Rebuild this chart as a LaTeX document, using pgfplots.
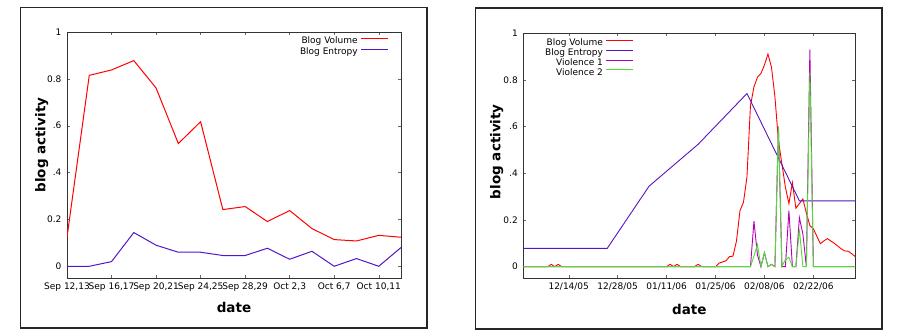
\documentclass[border=0pt]{standalone}
\usepackage{pgfplots}
\pgfplotsset{compat=1.18}
\usepackage{fontspec}
\setmainfont{DejaVu Sans}
\definecolor{gvol}{RGB}{255,0,0}
\definecolor{gent}{RGB}{85,20,200}
\definecolor{gvone}{RGB}{180,0,180}
\definecolor{gvtwo}{RGB}{80,220,50}
\begin{document}
\begin{tikzpicture}[x=1pt,y=1pt]
\path (0,0) rectangle (902,335);
\draw[line width=1.3pt, black!85] (20.5,327.5) rectangle (427,7);
\draw[line width=1.3pt, black!85] (475.5,327) rectangle (882,6);
\pgfplotsset{every axis/.append style={
  scale only axis,
  font=\fontsize{9}{10}\selectfont,
  tick align=inside, major tick length=3pt,
  axis line style={black!80},
  every tick/.style={black!60},
  xlabel style={font=\fontsize{13.5}{15}\selectfont\bfseries, anchor=center},
  ylabel style={font=\fontsize{13.5}{15}\selectfont\bfseries, anchor=center},
  yticklabel style={xshift=-2pt},
  xticklabel style={yshift=-1pt},
  legend cell align=right,
  legend plot pos=right,
  ytick={0,0.2,0.4,0.6,0.8,1},
  yticklabels={0,0.2,.4,.6,0.8,1},
  ymin=-0.05, ymax=1,
}}
\begin{axis}[at={(67pt,57pt)}, anchor=south west, width=334pt, height=246pt,
  xmin=0, xmax=15,
  xtick={0,2,4,6,8,10,12,14},
  xticklabels={{Sep 12,13},{Sep 16,17},{Sep 20,21},{Sep 24,25},{Sep 28,29},{Oct 2,3},{Oct 6,7},{Oct 10,11}},
  xlabel={date}, ylabel={blog activity},
  xlabel style={at={(axis description cs:0.5,-0.118)}},
  ylabel style={at={(axis description cs:-0.0757,0.54)}},
  legend image code/.code={\draw[#1] (0pt,3pt) -- (27pt,3pt);},
  legend style={draw=none, fill=none, at={(axis description cs:0.964,0.984)}, anchor=north east, inner sep=0pt,
    nodes={text height=6.5pt, text depth=2pt, inner sep=1.05pt},
    row sep=0pt, column sep=2pt, font=\fontsize{9}{10}\selectfont},
]
\addplot[gvol, line width=1pt] coordinates {
(0,0.124) (1,0.815) (2,0.838) (3,0.878) (4,0.761) (5,0.524) (6,0.617) (7,0.242)
(8,0.255) (9,0.191) (10,0.238) (11,0.161) (12,0.114) (13,0.108) (14,0.132) (15,0.124)};
\addlegendentry{Blog Volume}
\addplot[gent, line width=1pt] coordinates {
(0,0) (1,0) (2,0.02) (3,0.144) (4,0.09) (5,0.06) (6,0.06) (7,0.046)
(8,0.046) (9,0.077) (10,0.03) (11,0.064) (12,0) (13,0.033) (14,0) (15,0.08)};
\addlegendentry{Blog Entropy}
\end{axis}
\begin{axis}[at={(523.3pt,56.7pt)}, anchor=south west, width=332pt, height=245pt,
  xmin=-13, xmax=82,
  xtick={0,14,28,42,56,70},
  xticklabels={12/14/05,12/28/05,01/11/06,01/25/06,02/08/06,02/22/06},
  xlabel={date}, ylabel={blog activity},
  xlabel style={at={(axis description cs:0.5,-0.129)}},
  ylabel style={at={(axis description cs:-0.0801,0.517)}},
  legend image code/.code={\draw[#1] (0pt,3pt) -- (27pt,3pt);},
  legend style={draw=none, fill=none, at={(axis description cs:0.3325,0.979)}, anchor=north east, inner sep=0pt,
    nodes={text height=6.5pt, text depth=2pt, inner sep=0.65pt},
    row sep=0pt, column sep=2pt, font=\fontsize{9}{10}\selectfont},
]
\addplot[gvol, line width=0.9pt] coordinates {
(-13,0) (-6,0) (-5,0.01) (-4,0) (-3,0.01) (-2,0) (28,0) (29,0.01) (30,0) (31,0.01) (32,0)
(36,0) (37,0.01) (38,0) (42,0) (43,0.015) (44,0.02) (45,0.025) (46,0.043) (47,0.045)
(48,0.11) (49,0.24) (50,0.276) (51,0.385) (52,0.69) (53,0.77) (54,0.812) (55,0.828)
(56,0.864) (57,0.911) (58,0.856) (59,0.728) (60,0.54) (61,0.44) (62,0.34) (63,0.27)
(64,0.36) (65,0.25) (66,0.27) (67,0.29) (68,0.23) (69,0.176) (70,0.162) (71,0.13)
(72,0.098) (73,0.11) (74,0.12) (75,0.11) (76,0.1) (77,0.088) (78,0.076) (79,0.067)
(80,0.066) (81,0.055) (82,0.043)};
\addlegendentry{Blog Volume}
\addplot[gent, line width=0.9pt] coordinates {
(-13,0.078) (11,0.078) (23,0.345) (37,0.524) (51,0.742) (66,0.282) (82,0.282)};
\addlegendentry{Blog Entropy}
\addplot[gvone, line width=0.9pt] coordinates {
(-13,0) (52,0) (53,0.195) (54,0.05) (55,0) (56,0.06) (57,0) (58,0.01) (59,0) (60,0.6)
(61,0) (62,0) (63,0.24) (64,0) (65,0) (66,0.21) (67,0.14) (68,0) (69,0.93) (70,0) (82,0)};
\addlegendentry{Violence 1}
\addplot[gvtwo, line width=0.9pt] coordinates {
(-13,0) (52,0) (53,0.045) (54,0.095) (55,0) (56,0.06) (57,0) (58,0.01) (59,0) (60,0.6)
(61,0) (62,0.03) (63,0.04) (64,0) (65,0) (66,0.16) (67,0) (68,0) (69,0.83) (70,0) (82,0)};
\addlegendentry{Violence 2}
\end{axis}
\end{tikzpicture}
\end{document}
